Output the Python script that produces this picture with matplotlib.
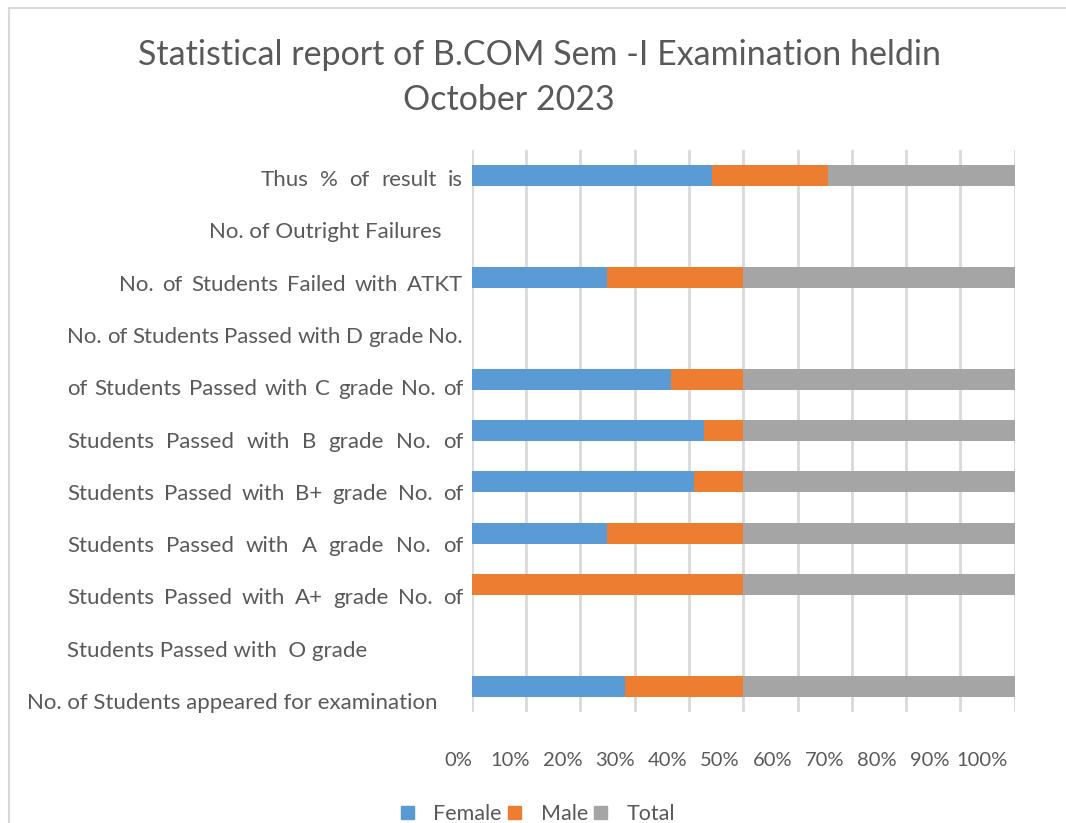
import matplotlib
matplotlib.use('Agg')
from matplotlib import pyplot as plt
from matplotlib.patches import Patch
import numpy as np

plt.rcParams['font.family'] = ['Lato', 'DejaVu Sans']

# categories, bottom to top
categories = [
    'No. of Students appeared for examination',
    'Students Passed with  O grade',
    'Students Passed with A+ grade No. of',
    'Students Passed with A grade No. of',
    'Students Passed with B+ grade No. of',
    'Students Passed with B grade No. of',
    'of Students Passed with C grade No. of',
    'No. of Students Passed with D grade No.',
    'No. of Students Failed with ATKT',
    'No. of Outright Failures',
    'Thus % of result is',
]
female = [13, 0, 0, 1, 9, 6, 11, 0, 1, 0, 90.0]
male = [10, 0, 1, 1, 2, 1, 4, 0, 1, 0, 43.5]
total = [23, 0, 1, 2, 11, 7, 15, 0, 2, 0, 70.0]
tick_labels = ['0%', '10%', '20%', '30%', '40%', '50%', '60%', '70%', '80%', '90%', '100%']

# label layout: (mode, left px, right px)
label_layout = [
    ('left', 27, None),
    ('left', 67, None),
    ('justify', 67, 463),
    ('justify', 67, 463),
    ('justify', 67, 463),
    ('justify', 67, 463),
    ('justify', 67, 463),
    ('justify', 67, 463),
    ('justify', 119, 463),
    ('left', 209, None),
    ('justify', 261, 463),
]

BLUE = '#5b9bd5'
ORANGE = '#ed7d31'
GRAY = '#a5a5a5'
TEXT = '#595959'
W, H = 1066, 823
LBL = 16

fig = plt.figure(figsize=(W / 100, H / 100), dpi=100)
ax = fig.add_axes([471.7 / W, 1 - 712 / H, 543 / W, (712 - 149.5) / H])

f = np.array(female, dtype=float)
m = np.array(male, dtype=float)
t = np.array(total, dtype=float)
s = f + m + t
s[s == 0] = 1
fp, mp, tp = f / s, m / s, t / s
y = np.arange(len(categories))
bh = 0.41
ax.barh(y, fp, height=bh, color=BLUE, label='Female', zorder=3)
ax.barh(y, mp, left=fp, height=bh, color=ORANGE, label='Male', zorder=3)
ax.barh(y, tp, left=fp + mp, height=bh, color=GRAY, label='Total', zorder=3)

ax.set_xlim(0, 1)
ax.set_ylim(-0.5, len(categories) - 0.5)
ax.set_xticks(np.linspace(0, 1, len(tick_labels)))
ax.set_xticklabels([])
ax.set_yticks([])
ax.tick_params(axis='x', length=0)
ax.grid(axis='x', color='#d9d9d9', linewidth=2, zorder=0)
for sp in ax.spines.values():
    sp.set_visible(False)

# x tick labels (drawn as text, slightly compressed as in the original)
for i, lab in enumerate(tick_labels):
    fig.text((458 + i * 52.4) / W, 1 - 760 / H, lab, ha='center', va='center',
             fontsize=14.5, color=TEXT)

# category labels
fig.canvas.draw()
renderer = fig.canvas.get_renderer()
for i, (lab, (mode, x0, x1)) in enumerate(zip(categories, label_layout)):
    ypx = 180 + (len(categories) - 1 - i) * 52.3
    yf = 1 - ypx / H
    if mode == 'left':
        fig.text(x0 / W, yf, lab, ha='left', va='center', fontsize=LBL, color=TEXT)
        continue
    words = lab.split()
    texts = [fig.text(0, yf, w, ha='left', va='center', fontsize=LBL, color=TEXT)
             for w in words]
    widths = [tx.get_window_extent(renderer).width for tx in texts]
    gap = (x1 - x0 - sum(widths)) / (len(words) - 1)
    x = x0
    for tx, wd in zip(texts, widths):
        tx.set_x(x / W)
        x += wd + gap

fig.text(540 / W, 1 - 55 / H, 'Statistical report of B.COM Sem -I Examination heldin',
         ha='center', va='center', fontsize=24.5, color=TEXT)
fig.text(509 / W, 1 - 100 / H, 'October 2023', ha='center', va='center',
         fontsize=24.5, color=TEXT)

handles = [Patch(color=BLUE), Patch(color=ORANGE), Patch(color=GRAY)]
fig.legend(handles, ['Female', 'Male', 'Total'], loc='center', ncol=3,
           bbox_to_anchor=(538 / W, 1 - 814 / H), frameon=False, fontsize=15.5,
           handlelength=0.6, handleheight=0.6, handletextpad=0.9,
           columnspacing=0.3, labelcolor=TEXT)

# outer chart border
fig.add_artist(plt.Line2D([9 / W, 1], [1 - 8 / H, 1 - 8 / H], color='#d9d9d9', lw=1.5))
fig.add_artist(plt.Line2D([9 / W, 9 / W], [0, 1 - 8 / H], color='#d9d9d9', lw=1.5))

fig.savefig('out.png', dpi=100)
